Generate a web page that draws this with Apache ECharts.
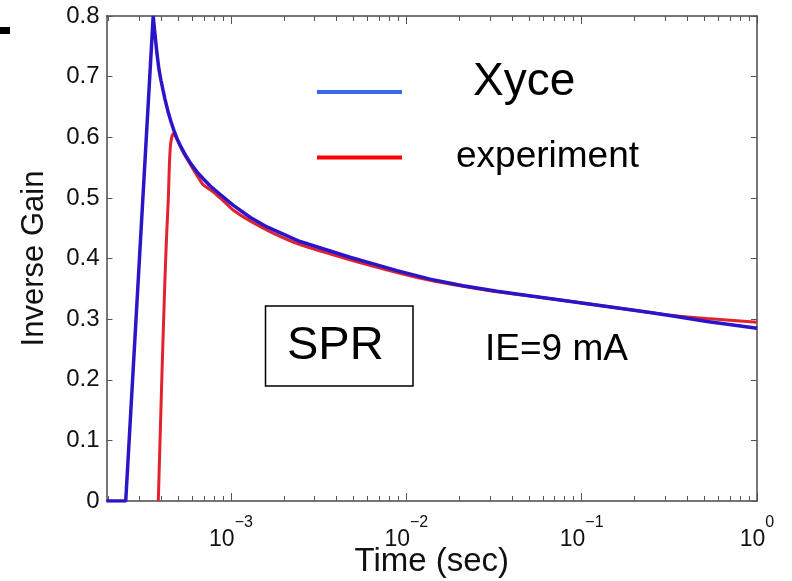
<!DOCTYPE html>
<html><head><meta charset="utf-8">
<script src="https://cdn.jsdelivr.net/npm/echarts@6/dist/echarts.min.js"></script>
<style>html,body{margin:0;padding:0;background:#fff}#c{width:792px;height:581px}</style>
</head><body><div id="c"></div>
<script>
// ---- data ----
const xyceTime  = [1.95e-4, 2.51e-4, 3.60e-4, 3.685e-4, 3.783e-4, 3.883e-4, 3.987e-4, 4.093e-4, 4.201e-4, 4.370e-4, 4.545e-4, 4.730e-4, 4.920e-4, 5.185e-4, 5.537e-4, 5.913e-4, 6.397e-4, 6.921e-4, 7.589e-4, 8.655e-4, 1.027e-3, 1.284e-3, 1.605e-3, 2.475e-3, 4.77e-3, 8.85e-3, 1.365e-2, 2.106e-2, 3.29e-2, 5.79e-2, 0.1396, 0.2456, 0.332, 0.519, 1.0];
const xyceValue = [0, 0, 0.800, 0.770, 0.738, 0.712, 0.694, 0.678, 0.663, 0.643, 0.626, 0.611, 0.598, 0.584, 0.569, 0.556, 0.543, 0.532, 0.520, 0.506, 0.488, 0.468, 0.452, 0.428, 0.402, 0.380, 0.366, 0.355, 0.346, 0.336, 0.321, 0.311, 0.305, 0.296, 0.285];
const expTime   = [3.85e-4, 4.04e-4, 4.20e-4, 4.30e-4, 4.39e-4, 4.45e-4, 4.53e-4, 4.69e-4, 4.86e-4, 5.32e-4, 5.84e-4, 6.40e-4, 6.92e-4, 7.39e-4, 7.90e-4, 8.66e-4, 9.37e-4, 1.027e-3, 1.284e-3, 1.736e-3, 2.475e-3, 4.77e-3, 8.85e-3, 1.365e-2, 2.106e-2, 3.29e-2, 5.79e-2, 0.1396, 0.2456, 0.332, 0.519, 1.0];
const expValue  = [0, 0.210, 0.365, 0.442, 0.497, 0.552, 0.590, 0.606, 0.600, 0.576, 0.556, 0.537, 0.522, 0.516, 0.510, 0.500, 0.491, 0.480, 0.462, 0.442, 0.423, 0.398, 0.377, 0.364, 0.354, 0.345, 0.336, 0.321, 0.311, 0.306, 0.301, 0.295];
const seriesNames = ['Xyce', 'experiment'];
const yTickValues = [0, 0.1, 0.2, 0.3, 0.4, 0.5, 0.6, 0.7, 0.8];
const xMajorTicks = [1e-3, 1e-2, 1e-1, 1];
const xMinorTicks = [2e-4,3e-4,4e-4,5e-4,6e-4,7e-4,8e-4,9e-4,
  2e-3,3e-3,4e-3,5e-3,6e-3,7e-3,8e-3,9e-3,
  2e-2,3e-2,4e-2,5e-2,6e-2,7e-2,8e-2,9e-2,
  0.2,0.3,0.4,0.5,0.6,0.7,0.8,0.9];
const xMin = 1.95e-4, xMax = 1;
const yName = 'Inverse Gain', xName = 'Time (sec)';
const boxLabel = 'SPR', noteLabel = 'IE=9 mA';

// ---- chart ----
const FONT = '"Liberation Sans", Arial, Helvetica, sans-serif';
const AX = '#4a4a4a';
const TK = '#555555';
function pair(ts, vs){ return ts.map((t,i)=>[t, vs[i]]); }
function expLabel(v){
  const e = Math.round(Math.log10(v));
  return '{b|10}{s|' + (e < 0 ? '\u2212' + (-e) : String(e)) + '}';
}
function xAx(pos, ticks, len, showLabel, showLine){
  return {
    type:'log', logBase:10, min:xMin, max:xMax, position:pos, gridIndex:0,
    name: showLabel ? xName : '', nameLocation:'middle', nameGap:44, nameMoveOverlap:false,
    nameTextStyle:{fontFamily:FONT, fontSize:33, color:'#111'},
    axisLine:{show:showLine, onZero:false, lineStyle:{color:AX, width:1.5}},
    axisTick:{show:true, inside:true, length:len, customValues:ticks, lineStyle:{color:TK, width:1}},
    axisLabel:{show:showLabel, customValues:xMajorTicks, margin:27,
      formatter:function(v){ return expLabel(v); },
      rich:{ b:{fontFamily:FONT, fontSize:23, color:'#111', lineHeight:23},
             s:{fontFamily:FONT, fontSize:16, color:'#111', lineHeight:16, padding:[0,0,34,0]} } },
    splitLine:{show:false}, minorTick:{show:false}, minorSplitLine:{show:false}
  };
}
function yAx(pos, showLabel){
  return {
    type:'value', min:0, max:0.8, interval:0.1, position:pos, gridIndex:0,
    name: showLabel ? yName : '', nameLocation:'middle', nameGap:57, nameMoveOverlap:false,
    nameTextStyle:{fontFamily:FONT, fontSize:31, color:'#111'},
    axisLine:{show:true, onZero:false, lineStyle:{color:AX, width:1.5}},
    axisTick:{show:true, inside:true, length:6, customValues:yTickValues, lineStyle:{color:TK, width:1}},
    axisLabel:{show:showLabel, margin:7, fontFamily:FONT, fontSize:24, color:'#111',
      formatter:function(v){ return v === 0 ? '0' : v.toFixed(1); }},
    splitLine:{show:false}
  };
}
const chart = echarts.init(document.getElementById('c'), null, {renderer:'canvas'});
chart.setOption({
  animation:false,
  backgroundColor:'#ffffff',
  grid:{left:106.5, right:35, top:16, bottom:80, containLabel:false, outerBoundsMode:'none'},
  xAxis:[
    xAx('bottom', xMajorTicks, 8, true, true),
    xAx('bottom', xMinorTicks, 5, false, false),
    xAx('top', xMajorTicks, 8, false, true),
    xAx('top', xMinorTicks, 5, false, false)
  ],
  yAxis:[ yAx('left', true), yAx('right', false) ],
  series:[
    {name:seriesNames[1], type:'line', xAxisIndex:0, yAxisIndex:0, data:pair(expTime, expValue),
     showSymbol:false, smooth:0.25, clip:true, lineStyle:{color:'#e2232d', width:3}, z:2},
    {name:seriesNames[0], type:'line', xAxisIndex:0, yAxisIndex:0, data:pair(xyceTime, xyceValue),
     showSymbol:false, smooth:false, clip:true, lineStyle:{color:'#2a15c8', width:3.5}, z:3}
  ],
  graphic:[
    {type:'rect', shape:{x:0, y:27, width:10, height:7}, style:{fill:'#000'}},
    {type:'line', shape:{x1:317, y1:92, x2:402, y2:92}, style:{stroke:'#3a68f0', lineWidth:4}},
    {type:'line', shape:{x1:317, y1:157.5, x2:402, y2:157.5}, style:{stroke:'#ff0000', lineWidth:4}},
    {type:'text', style:{text:seriesNames[0], x:473, y:82, font:'46px ' + FONT, fill:'#000', verticalAlign:'middle', align:'left'}},
    {type:'text', style:{text:seriesNames[1], x:456, y:157, font:'37px ' + FONT, fill:'#000', verticalAlign:'middle', align:'left'}},
    {type:'rect', shape:{x:265.5, y:306, width:147.5, height:80}, style:{fill:'none', stroke:'#000', lineWidth:1.5}},
    {type:'text', style:{text:boxLabel, x:287, y:346, font:'47px ' + FONT, fill:'#000', verticalAlign:'middle', align:'left'}},
    {type:'text', style:{text:noteLabel, x:485, y:350, font:'37px ' + FONT, fill:'#000', verticalAlign:'middle', align:'left'}}
  ]
});
</script></body></html>
